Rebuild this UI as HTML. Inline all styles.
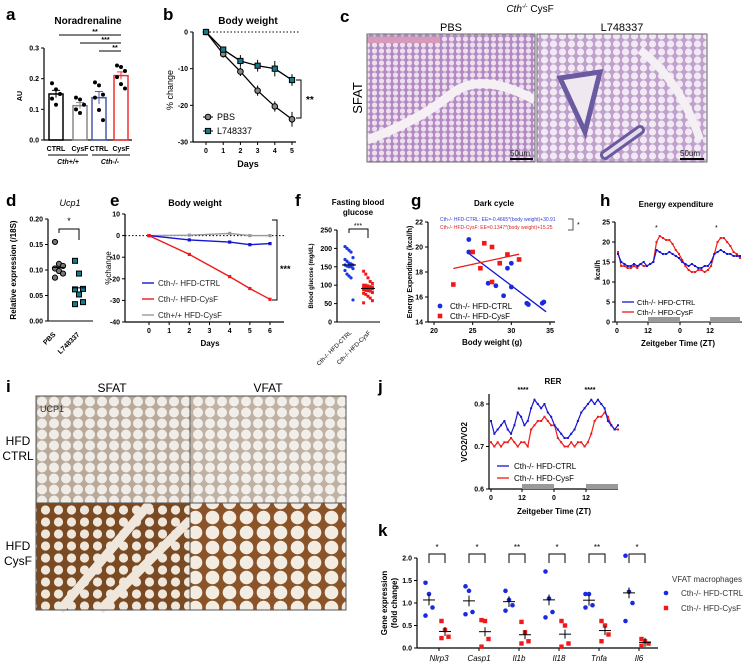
<!DOCTYPE html>
<html><head><meta charset="utf-8"><style>
body{margin:0;background:#fff}
svg{display:block;font-family:"Liberation Sans",sans-serif}
.pl{font-weight:bold;font-size:17px}
.t{font-weight:bold;font-size:10px}
.tk{font-size:7px;font-weight:bold}
</style></head><body>
<svg id="fig" width="756" height="666" viewBox="0 0 756 666">
<defs>
<pattern id="adipo1" width="7" height="6" patternUnits="userSpaceOnUse"><rect width="7" height="6" fill="#b48ac2"/><circle cx="3.5" cy="3" r="2.6" fill="#ece0ef"/></pattern>
<pattern id="adipo2" width="9" height="8" patternUnits="userSpaceOnUse"><rect width="9" height="8" fill="#c0a0cc"/><circle cx="4.5" cy="4" r="3.6" fill="#f1e9f3"/></pattern>
<pattern id="adipo3" width="12" height="11" patternUnits="userSpaceOnUse"><rect width="12" height="11" fill="#b8a99a"/><circle cx="6" cy="5.5" r="5" fill="#f0ede8"/></pattern>
<pattern id="adipo4" width="13" height="12" patternUnits="userSpaceOnUse"><rect width="13" height="12" fill="#7a4a22"/><circle cx="6.5" cy="6" r="4.6" fill="#efe6dc"/></pattern>
<pattern id="adipo5" width="17" height="15" patternUnits="userSpaceOnUse"><rect width="17" height="15" fill="#8a5428"/><circle cx="8.5" cy="7.5" r="6.8" fill="#f3ece2"/></pattern>
</defs>
<g>
<text class="pl" x="6" y="20">a</text><text class="pl" x="163" y="20">b</text><text class="pl" x="340" y="22">c</text>
<text class="pl" x="6" y="206">d</text><text class="pl" x="110" y="206">e</text><text class="pl" x="295" y="206">f</text>
<text class="pl" x="411" y="206">g</text><text class="pl" x="600" y="206">h</text>
<text class="pl" x="6" y="392">i</text><text class="pl" x="378" y="392">j</text><text class="pl" x="378" y="536">k</text>
</g>
<g>
<text x="530" y="12" font-size="10" text-anchor="middle" font-style="italic">Cth<tspan font-size="6" dy="-4">-/-</tspan><tspan dy="4" font-style="normal"> CysF</tspan></text>
<text x="451" y="31" font-size="11" text-anchor="middle">PBS</text>
<text x="622" y="31" font-size="11" text-anchor="middle">L748337</text>
<rect x="367" y="34" width="168" height="128" fill="url(#adipo1)"/>
<path d="M367 40 H440" stroke="#d89ab8" stroke-width="6"/>
<path d="M367 140 Q420 120 450 95 T535 100" stroke="#f4f0f4" stroke-width="9" fill="none"/>
<rect x="537" y="34" width="170" height="128" fill="url(#adipo2)"/>
<path d="M560 78 L600 72 L585 132 Z" fill="#f0e8f0" stroke="#6a5aa0" stroke-width="5"/>
<path d="M605 155 L640 130" stroke="#6a5aa0" stroke-width="10" stroke-linecap="round"/>
<path d="M605 155 L640 130" stroke="#e6dcee" stroke-width="4" stroke-linecap="round"/>
<path d="M640 50 Q680 80 700 140" stroke="#f4f0f4" stroke-width="8" fill="none"/>
<rect x="367" y="34" width="168" height="128" fill="none" stroke="#666"/><rect x="537" y="34" width="170" height="128" fill="none" stroke="#666"/>
<line x1="510" y1="159" x2="533" y2="159" stroke="#000" stroke-width="2"/><line x1="680" y1="159" x2="704" y2="159" stroke="#000" stroke-width="2"/>
<text x="510" y="156" font-size="8" fill="#222">50um</text><text x="680" y="156" font-size="8" fill="#222">50um</text>
<text x="362" y="98" font-size="13" text-anchor="middle" transform="rotate(-90 362 98)">SFAT</text>
</g>
<g>
<text x="112" y="392" font-size="12" text-anchor="middle">SFAT</text><text x="268" y="392" font-size="12" text-anchor="middle">VFAT</text>
<rect x="36" y="396" width="154" height="107" fill="url(#adipo3)"/>
<rect x="190" y="396" width="156" height="107" fill="url(#adipo3)" opacity="0.9"/>
<rect x="36" y="503" width="154" height="107" fill="url(#adipo4)"/>
<path d="M60 610 L150 503 M100 610 L190 520" stroke="#efe6dc" stroke-width="9"/>
<rect x="190" y="503" width="156" height="107" fill="url(#adipo5)"/>
<rect x="36" y="396" width="310" height="214" fill="none" stroke="#555" stroke-width="1"/>
<line x1="190" y1="396" x2="190" y2="610" stroke="#555"/><line x1="36" y1="503" x2="346" y2="503" stroke="#555"/>
<text x="40" y="412" font-size="9" fill="#333">UCP1</text>
<text x="18" y="445" font-size="12" text-anchor="middle">HFD</text><text x="18" y="460" font-size="12" text-anchor="middle">CTRL</text>
<text x="18" y="550" font-size="12" text-anchor="middle">HFD</text><text x="18" y="565" font-size="12" text-anchor="middle">CysF</text>
</g>
<g id="charts"></g>
</svg>
<script>
const aGroups=['CTRL','CysF','CTRL','CysF'];
const aMeans=[0.150,0.112,0.138,0.210];
const aSem=[0.012,0.010,0.020,0.012];
const aPoints=[[0.185,0.165,0.150,0.135,0.115],[0.138,0.132,0.115,0.100,0.088],[0.188,0.178,0.148,0.138,0.098,0.065],[0.243,0.238,0.225,0.205,0.182,0.168]];
const aTicks=[0,0.1,0.2,0.3];
const bDays=[0,1,2,3,4,5];
const bPBS=[0,-6,-10.8,-16,-20.3,-23.8];
const bPBSerr=[0,1,1.2,1.4,1.4,2];
const bL=[0,-4.8,-7.9,-9.2,-10,-13.1];
const bLerr=[0,0.8,1.6,1.6,2.1,1.6];
const bTicks=[0,-10,-20,-30];
const dPBS=[0.155,0.112,0.108,0.103,0.098,0.093,0.085];
const dL=[0.118,0.093,0.063,0.062,0.052,0.037,0.033];
const dMeans=[0.105,0.065];
const dTicks=[0,0.05,0.10,0.15,0.20];
const eDays=[0,2,4,5,6];
const eCtrl=[0,-2,-3,-4.2,-3.7];
const eCysF=[0,-8.7,-19,-24.5,-29.5];
const eWT=[0,0.2,1,0,0];
const eTicks=[10,0,-10,-20,-30,-40];
const eXTicks=[0,1,2,3,4,5,6];
const fCtrl=[205,200,195,190,175,170,165,160,158,155,155,152,150,150,145,140,130,125,120,60];
const fCysF=[138,130,120,110,105,100,100,98,96,95,94,93,92,90,90,88,86,85,84,80,78,75,70,65,58,52];
const fTicks=[0,50,100,150,200,250];
const gCtrlW=[24.5,24.5,27,28,29,29.5,30,30,32,32.2,34,34.2];
const gCtrlE=[20.6,19.6,17.1,16.9,16.1,18.3,18.7,16.8,15.5,15.4,15.5,15.6];
const gCysW=[22.5,25,26,26.5,27.5,27.5,28.5,29.5,31];
const gCysE=[17,19.6,18.3,20.3,20,17.2,18.7,19.4,19];
const gXTicks=[20,25,30,35];
const gYTicks=[14,16,18,20,22];
const hCtrl=[17,15,14.5,14,14,14.5,14,14.5,15,14,14.5,15,18,17.5,17,17,17.5,17,16.5,16,15,14.5,14,14.5,14,13.5,13.5,14,14,15,17,17.5,18,17.5,17,17,16.5,16.5,16.5];
const hCysF=[17.5,14,14,13.5,13.5,14,13.5,14.5,14,14,14.5,15,20,21.5,21,20.5,20.5,19.5,18,17,15.5,14,13,12.5,12.5,13,13,12.5,13,14,17,20,21,21,20,19,17.5,17,16];
const hYTicks=[0,5,10,15,20,25];
const jCtrl=[0.76,0.73,0.74,0.75,0.76,0.74,0.73,0.75,0.78,0.77,0.75,0.76,0.79,0.81,0.80,0.79,0.80,0.78,0.77,0.75,0.74,0.73,0.72,0.72,0.73,0.74,0.76,0.78,0.79,0.80,0.81,0.80,0.81,0.80,0.79,0.76,0.75,0.74,0.75];
const jCysF=[0.71,0.70,0.71,0.70,0.71,0.71,0.72,0.71,0.70,0.71,0.71,0.70,0.74,0.75,0.76,0.76,0.77,0.76,0.75,0.75,0.72,0.71,0.70,0.70,0.71,0.70,0.71,0.71,0.70,0.71,0.73,0.76,0.77,0.77,0.78,0.77,0.75,0.74,0.74];
const jYTicks=[0.6,0.7,0.8];
const kGenes=['Nlrp3','Casp1','Il1b','Il18','Tnfa','Il6'];
const kStars=['*','*','**','*','**','*'];
const kCtrl=[[1.45,1.2,0.9,0.72],[1.37,1.27,0.8,0.75],[1.27,1.07,0.95,0.83],[1.7,1.1,0.8,0.68],[1.2,1.2,0.95,0.9],[2.05,1.25,1.0,0.6]];
const kCysF=[[0.6,0.4,0.25,0.22],[0.62,0.6,0.2,0.03],[0.58,0.35,0.15,0.1],[0.6,0.5,0.1,0.03],[0.6,0.5,0.3,0.15],[0.2,0.15,0.1,0.05]];
const kYTicks=[0,0.5,1.0,1.5,2.0];

const NS='http://www.w3.org/2000/svg';
const root=document.getElementById('charts');
function mk(tag,attrs,parent,txt){const e=document.createElementNS(NS,tag);for(const k in attrs)e.setAttribute(k,attrs[k]);if(txt!==undefined)e.textContent=txt;(parent||root).appendChild(e);return e;}
function grp(name){const g=mk('g',{});


return g;}
function lin(d0,d1,r0,r1){return v=>r0+(v-d0)*(r1-r0)/(d1-d0);}
function yAxis(g,x,y0,y1,ticks,sy,fmt){mk('line',{x1:x,y1:y0,x2:x,y2:y1,stroke:'#000','stroke-width':1.2},g);
ticks.forEach(t=>{const y=sy(t);mk('line',{x1:x-3,y1:y,x2:x,y2:y,stroke:'#000'},g);mk('text',{x:x-5,y:y+2.5,'text-anchor':'end',class:'tk'},g,fmt(t));});}
function xAxis(g,y,x0,x1,ticks,sx,fmt){mk('line',{x1:x0,y1:y,x2:x1,y2:y,stroke:'#000','stroke-width':1.2},g);
ticks.forEach(t=>{const x=sx(t);mk('line',{x1:x,y1:y,x2:x,y2:y+3,stroke:'#000'},g);mk('text',{x:x,y:y+11,'text-anchor':'middle',class:'tk'},g,fmt(t));});}
function mean(a){return a.reduce((s,v)=>s+v,0)/a.length;}

(function(){const g=grp('chart-a-noradrenaline');
const sy=lin(0,0.3,140,48);const cx=[56,80,99,121];const cols=['#000','#888','#4a5aaa','#f03030'];
mk('text',{x:88,y:24,'text-anchor':'middle',class:'t'},g,'Noradrenaline');
yAxis(g,44,48,140,aTicks,sy,t=>t.toFixed(1));
mk('line',{x1:44,y1:140,x2:132,y2:140,stroke:'#000','stroke-width':1.2},g);
mk('text',{x:22,y:96,'text-anchor':'middle',class:'tk','font-size':8,transform:'rotate(-90 22 96)'},g,'AU');
aMeans.forEach((m,i)=>{const b=mk('rect',{x:cx[i]-7,y:sy(m),width:14,height:140-sy(m),fill:'none',stroke:cols[i],'stroke-width':1.5},g);


mk('line',{x1:cx[i],y1:sy(m-aSem[i]),x2:cx[i],y2:sy(m+aSem[i]),stroke:cols[i]},g);
mk('line',{x1:cx[i]-4,y1:sy(m+aSem[i]),x2:cx[i]+4,y2:sy(m+aSem[i]),stroke:cols[i]},g);
aPoints[i].forEach((v,j)=>mk('circle',{cx:cx[i]+((j%3)-1)*4,cy:sy(v),r:2,fill:'#000'},g));
mk('text',{x:cx[i],y:151,'text-anchor':'middle',class:'tk'},g,aGroups[i]);});
[[59,121,35,'**'],[80,121,43,'***'],[99,121,51,'**']].forEach(s=>{mk('line',{x1:s[0],y1:s[2],x2:s[1],y2:s[2],stroke:'#000'},g);mk('text',{x:(s[0]+s[1])/2+5,y:s[2]-1,'text-anchor':'middle',class:'tk','font-size':8},g,s[3]);});
mk('line',{x1:48,y1:155,x2:88,y2:155,stroke:'#000'},g);mk('line',{x1:92,y1:155,x2:130,y2:155,stroke:'#000'},g);
mk('text',{x:68,y:164,'text-anchor':'middle',class:'tk','font-style':'italic'},g,'Cth+/+');
mk('text',{x:110,y:164,'text-anchor':'middle',class:'tk','font-style':'italic'},g,'Cth-/-');})();

(function(){const g=grp('chart-b-body-weight');
const sx=lin(0,5,206,292),sy=lin(0,-30,32,142);
mk('text',{x:248,y:24,'text-anchor':'middle',class:'t'},g,'Body weight');
yAxis(g,193,32,142,bTicks,sy,t=>t);xAxis(g,142,193,296,bDays,sx,t=>t);
mk('line',{x1:206,y1:32,x2:300,y2:32,stroke:'#000','stroke-dasharray':'1.5 2'},g);
mk('text',{x:173,y:90,'text-anchor':'middle','font-size':9,transform:'rotate(-90 173 90)'},g,'% change');
mk('text',{x:248,y:167,'text-anchor':'middle','font-size':9,'font-weight':'bold'},g,'Days');
[[bPBS,bPBSerr,'#888','c'],[bL,bLerr,'#157a8c','s']].forEach(([v,e,c,sh])=>{
mk('polyline',{points:bDays.map((d,i)=>sx(d)+','+sy(v[i])).join(' '),fill:'none',stroke:'#000','stroke-width':1.3},g);
bDays.forEach((d,i)=>{mk('line',{x1:sx(d),y1:sy(v[i]-e[i]),x2:sx(d),y2:sy(v[i]+e[i]),stroke:'#000'},g);
if(sh=='c')mk('circle',{cx:sx(d),cy:sy(v[i]),r:2.8,fill:c,stroke:'#000'},g);else mk('rect',{x:sx(d)-2.6,y:sy(v[i])-2.6,width:5.2,height:5.2,fill:c,stroke:'#000'},g);});});
mk('path',{d:'M296 80 H301 V118 H296',fill:'none',stroke:'#000'},g);mk('text',{x:306,y:103,'font-size':10,'font-weight':'bold'},g,'**');
mk('line',{x1:203,y1:117,x2:213,y2:117,stroke:'#000'},g);mk('circle',{cx:208,cy:117,r:2.8,fill:'#888',stroke:'#000'},g);mk('text',{x:217,y:120,'font-size':9},g,'PBS');
mk('line',{x1:203,y1:131,x2:213,y2:131,stroke:'#000'},g);mk('rect',{x:205.4,y:128.4,width:5.2,height:5.2,fill:'#157a8c',stroke:'#000'},g);mk('text',{x:217,y:134,'font-size':9},g,'L748337');})();

(function(){const g=grp('chart-d-ucp1');
const sy=lin(0,0.2,321,219);
mk('text',{x:70,y:206,'text-anchor':'middle','font-size':9,'font-style':'italic'},g,'Ucp1');
yAxis(g,48,219,321,dTicks,sy,t=>t.toFixed(2));mk('line',{x1:48,y1:321,x2:93,y2:321,stroke:'#000'},g);
mk('text',{x:16,y:270,'text-anchor':'middle','font-size':8,'font-weight':'bold',transform:'rotate(-90 16 270)'},g,'Relative expression (/18S)');
dPBS.forEach((v,j)=>mk('circle',{cx:59+((j%3)-1)*4,cy:sy(v),r:2.6,fill:'#777',stroke:'#000'},g));
dL.forEach((v,j)=>mk('rect',{x:79+((j%3)-1)*4-2.5,y:sy(v)-2.5,width:5,height:5,fill:'#157a8c',stroke:'#000'},g));
[59,79].forEach((x,i)=>mk('line',{x1:x-6,y1:sy(dMeans[i]),x2:x+6,y2:sy(dMeans[i]),stroke:'#000'},g));
mk('path',{d:'M59 233 V229 H79 V240',fill:'none',stroke:'#000'},g);mk('text',{x:69,y:224,'text-anchor':'middle','font-size':9},g,'*');
mk('text',{x:56,y:335,'font-size':7,'font-weight':'bold','text-anchor':'end',transform:'rotate(-45 56 335)'},g,'PBS');
mk('text',{x:80,y:335,'font-size':7,'font-weight':'bold','text-anchor':'end',transform:'rotate(-45 80 335)'},g,'L748337');})();

(function(){const g=grp('chart-e-body-weight');
const sx=lin(0,6,149,270),sy=lin(10,-40,214,322);
mk('text',{x:195,y:206,'text-anchor':'middle','font-size':9,'font-weight':'bold'},g,'Body weight');
yAxis(g,125,214,322,eTicks,sy,t=>t);xAxis(g,322,125,284,eXTicks,sx,t=>t);
mk('line',{x1:125,y1:sy(0),x2:284,y2:sy(0),stroke:'#000','stroke-dasharray':'1.5 2'},g);
mk('text',{x:111,y:268,'text-anchor':'middle','font-size':8,transform:'rotate(-90 111 268)'},g,'%change');
mk('text',{x:210,y:346,'text-anchor':'middle','font-size':8,'font-weight':'bold'},g,'Days');
[[eWT,'#999'],[eCtrl,'#1515d0'],[eCysF,'#f01818']].forEach(([v,c])=>{mk('polyline',{points:eDays.map((d,i)=>sx(d)+','+sy(v[i])).join(' '),fill:'none',stroke:c,'stroke-width':1.4},g);
eDays.forEach((d,i)=>mk('rect',{x:sx(d)-1.6,y:sy(v[i])-1.6,width:3.2,height:3.2,fill:c},g));});
mk('path',{d:'M272 220 H277 V300 H272',fill:'none',stroke:'#000'},g);mk('text',{x:280,y:272,'font-size':9,'font-weight':'bold'},g,'***');
[['#1515d0','Cth-/- HFD-CTRL',283],['#f01818','Cth-/- HFD-CysF',299],['#999','Cth+/+ HFD-CysF',315]].forEach(([c,t,y])=>{mk('line',{x1:142,y1:y,x2:154,y2:y,stroke:c,'stroke-width':1.4},g);mk('text',{x:158,y:y+3,'font-size':8,fill:'#222'},g,t);});})();

(function(){const g=grp('chart-f-fasting-glucose');
const sy=lin(0,250,322,230);
mk('text',{x:358,y:205,'text-anchor':'middle','font-size':8,'font-weight':'bold'},g,'Fasting blood');
mk('text',{x:358,y:215,'text-anchor':'middle','font-size':8,'font-weight':'bold'},g,'glucose');
yAxis(g,337,230,322,fTicks,sy,t=>t);mk('line',{x1:337,y1:322,x2:380,y2:322,stroke:'#000'},g);
mk('text',{x:313,y:276,'text-anchor':'middle','font-size':6,'font-weight':'bold',transform:'rotate(-90 313 276)'},g,'Blood glucose (mg/dL)');
fCtrl.forEach((v,j)=>mk('circle',{cx:349+((j%5)-2)*2,cy:sy(v),r:1.6,fill:'#1a3ae0'},g));
fCysF.forEach((v,j)=>mk('rect',{x:368+((j%5)-2)*2.2-1.5,y:sy(v)-1.5,width:3,height:3,fill:'#f01818'},g));
[[349,mean(fCtrl)],[368,mean(fCysF)]].forEach(([x,m])=>mk('line',{x1:x-7,y1:sy(m),x2:x+7,y2:sy(m),stroke:'#000'},g));
mk('path',{d:'M349 233 V229 H368 V238',fill:'none',stroke:'#000'},g);mk('text',{x:358,y:228,'text-anchor':'middle','font-size':7},g,'***');
mk('text',{x:352,y:333,'font-size':6,'text-anchor':'end',transform:'rotate(-45 352 333)'},g,'Cth-/- HFD-CTRL');
mk('text',{x:371,y:333,'font-size':6,'text-anchor':'end',transform:'rotate(-45 371 333)'},g,'Cth-/- HFD-CysF');})();

(function(){const g=grp('chart-g-dark-cycle');
const sx=lin(20,35,434,550),sy=lin(22,14,222,322);
mk('text',{x:494,y:206,'text-anchor':'middle','font-size':8,'font-weight':'bold'},g,'Dark cycle');
yAxis(g,428,222,322,gYTicks,sy,t=>t);xAxis(g,322,428,555,gXTicks,sx,t=>t);
mk('text',{x:412,y:272,'text-anchor':'middle','font-size':7,'font-weight':'bold',transform:'rotate(-90 412 272)'},g,'Energy Expenditure (kcal/h)');
mk('text',{x:492,y:345,'text-anchor':'middle','font-size':8,'font-weight':'bold'},g,'Body weight (g)');
mk('text',{x:440,y:221,'font-size':5,fill:'#3040d0'},g,'Cth-/- HFD-CTRL: EE=-0.4665*(body weight)+30.91');
mk('text',{x:440,y:229,'font-size':5,fill:'#e02020'},g,'Cth-/- HFD-CysF: EE=0.1347*(body weight)+15.25');
mk('path',{d:'M568 219 H573 V230 H568',fill:'none',stroke:'#555'},g);mk('text',{x:577,y:227,'font-size':7},g,'*');
mk('line',{x1:sx(24.5),y1:sy(-0.4665*24.5+30.91),x2:sx(34.5),y2:sy(-0.4665*34.5+30.91),stroke:'#1515d0','stroke-width':1.3},g);
mk('line',{x1:sx(22.5),y1:sy(0.1347*22.5+15.25),x2:sx(31),y2:sy(0.1347*31+15.25),stroke:'#f01818','stroke-width':1.3},g);
gCtrlW.forEach((w,i)=>mk('circle',{cx:sx(w),cy:sy(gCtrlE[i]),r:2.4,fill:'#1a2ae0'},g));
gCysW.forEach((w,i)=>mk('rect',{x:sx(w)-2.3,y:sy(gCysE[i])-2.3,width:4.6,height:4.6,fill:'#f01818'},g));
mk('circle',{cx:440,cy:306,r:2.4,fill:'#1a2ae0'},g);mk('text',{x:450,y:309,'font-size':8},g,'Cth-/- HFD-CTRL');
mk('rect',{x:437.7,y:313.7,width:4.6,height:4.6,fill:'#f01818'},g);mk('text',{x:450,y:319,'font-size':8},g,'Cth-/- HFD-CysF');})();

(function(){const g=grp('chart-h-energy-expenditure');
const sx=lin(0,38,618,740),sy=lin(0,25,322,222);
mk('text',{x:676,y:207,'text-anchor':'middle','font-size':8,'font-weight':'bold'},g,'Energy expenditure');
yAxis(g,615,222,322,hYTicks,sy,t=>t);mk('line',{x1:615,y1:322,x2:742,y2:322,stroke:'#000'},g);
[[617,'0'],[648,'12'],[680,'0'],[710,'12']].forEach(([x,l])=>{mk('line',{x1:x,y1:322,x2:x,y2:325,stroke:'#000'},g);mk('text',{x:x,y:333,'text-anchor':'middle',class:'tk'},g,l);});
mk('rect',{x:648,y:317,width:32,height:5,fill:'#999'},g);mk('rect',{x:710,y:317,width:30,height:5,fill:'#999'},g);
mk('text',{x:600,y:270,'text-anchor':'middle','font-size':7,'font-weight':'bold',transform:'rotate(-90 600 270)'},g,'kcal/h');
mk('text',{x:678,y:346,'text-anchor':'middle','font-size':8,'font-weight':'bold'},g,'Zeitgeber Time (ZT)');
[[hCysF,'#f01818'],[hCtrl,'#1515d0']].forEach(([v,c])=>{mk('polyline',{points:v.map((y,i)=>sx(i)+','+sy(y)).join(' '),fill:'none',stroke:c,'stroke-width':1.2},g);v.forEach((y,i)=>mk('rect',{x:sx(i)-1,y:sy(y)-1,width:2,height:2,fill:c},g));});
mk('text',{x:655,y:230,'font-size':7},g,'*');mk('text',{x:715,y:230,'font-size':7},g,'*');
mk('line',{x1:622,y1:302,x2:634,y2:302,stroke:'#1515d0','stroke-width':1.3},g);mk('text',{x:637,y:305,'font-size':7.5},g,'Cth-/- HFD-CTRL');
mk('line',{x1:622,y1:312,x2:634,y2:312,stroke:'#f01818','stroke-width':1.3},g);mk('text',{x:637,y:315,'font-size':7.5},g,'Cth-/- HFD-CysF');})();

(function(){const g=grp('chart-j-rer');
const sx=lin(0,38,491,618),sy=lin(0.6,0.8,489,404);
mk('text',{x:553,y:384,'text-anchor':'middle','font-size':8,'font-weight':'bold'},g,'RER');
mk('text',{x:523,y:392,'text-anchor':'middle','font-size':7,'font-weight':'bold'},g,'****');mk('text',{x:590,y:392,'text-anchor':'middle','font-size':7,'font-weight':'bold'},g,'****');
yAxis(g,489,394,489,jYTicks,sy,t=>t.toFixed(1));mk('line',{x1:489,y1:489,x2:618,y2:489,stroke:'#000','stroke-width':1.2},g);
mk('rect',{x:522,y:484,width:32,height:5,fill:'#999'},g);mk('rect',{x:586,y:484,width:32,height:5,fill:'#999'},g);
[[491,'0'],[522,'12'],[554,'0'],[586,'12']].forEach(([x,l])=>{mk('line',{x1:x,y1:489,x2:x,y2:492,stroke:'#000'},g);mk('text',{x:x,y:500,'text-anchor':'middle',class:'tk'},g,l);});
mk('text',{x:467,y:442,'text-anchor':'middle','font-size':8,'font-weight':'bold',transform:'rotate(-90 467 442)'},g,'VCO2/VO2');
mk('text',{x:554,y:514,'text-anchor':'middle','font-size':8,'font-weight':'bold'},g,'Zeitgeber Time (ZT)');
[[jCysF,'#f01818'],[jCtrl,'#1515d0']].forEach(([v,c])=>{mk('polyline',{points:v.map((y,i)=>sx(i)+','+sy(y)).join(' '),fill:'none',stroke:c,'stroke-width':1.2},g);v.forEach((y,i)=>mk('rect',{x:sx(i)-1,y:sy(y)-1,width:2,height:2,fill:c},g));});
mk('line',{x1:497,y1:466,x2:509,y2:466,stroke:'#1515d0','stroke-width':1.3},g);mk('text',{x:514,y:469,'font-size':8},g,'Cth-/- HFD-CTRL');
mk('line',{x1:497,y1:478,x2:509,y2:478,stroke:'#f01818','stroke-width':1.3},g);mk('text',{x:514,y:481,'font-size':8},g,'Cth-/- HFD-CysF');})();

(function(){const g=grp('chart-k-gene-expression');
const sy=lin(0,2,648,558);const sx=i=>439+i*40;
yAxis(g,417,558,648,kYTicks,sy,t=>t.toFixed(1));mk('line',{x1:417,y1:648,x2:658,y2:648,stroke:'#000','stroke-width':1.3},g);
mk('text',{x:387,y:603,'text-anchor':'middle','font-size':8,'font-weight':'bold',transform:'rotate(-90 387 603)'},g,'Gene expression');
mk('text',{x:397,y:603,'text-anchor':'middle','font-size':8,'font-weight':'bold',transform:'rotate(-90 397 603)'},g,'(fold change)');
kGenes.forEach((gn,i)=>{const x=sx(i);
mk('text',{x:x,y:661,'text-anchor':'middle','font-size':8,'font-style':'italic'},g,gn);
mk('line',{x1:x,y1:648,x2:x,y2:651,stroke:'#000'},g);
mk('path',{d:`M${x-10} 563 V554 H${x+6} V563`,fill:'none',stroke:'#000'},g);
mk('text',{x:x-2,y:550,'text-anchor':'middle','font-size':8},g,kStars[i]);
kCtrl[i].forEach((v,j)=>mk('circle',{cx:x-10+((j%3)-1)*3.5,cy:sy(v),r:2.3,fill:'#1a2ae0'},g));
kCysF[i].forEach((v,j)=>mk('rect',{x:x+6+((j%3)-1)*3.5-2.2,y:sy(v)-2.2,width:4.4,height:4.4,fill:'#f01818'},g));
const m1=mean(kCtrl[i]),m2=mean(kCysF[i]);
mk('line',{x1:x-16,y1:sy(m1),x2:x-4,y2:sy(m1),stroke:'#000'},g);mk('line',{x1:x-10,y1:sy(m1-0.12),x2:x-10,y2:sy(m1+0.12),stroke:'#000'},g);
mk('line',{x1:x,y1:sy(m2),x2:x+12,y2:sy(m2),stroke:'#000'},g);mk('line',{x1:x+6,y1:sy(m2-0.1),x2:x+6,y2:sy(m2+0.1),stroke:'#000'},g);});
mk('text',{x:672,y:582,'font-size':8,fill:'#333'},g,'VFAT macrophages');
mk('circle',{cx:666,cy:593,r:2.3,fill:'#1a2ae0'},g);mk('text',{x:681,y:596,'font-size':8,fill:'#333'},g,'Cth-/- HFD-CTRL');
mk('rect',{x:663.8,y:605.8,width:4.4,height:4.4,fill:'#f01818'},g);mk('text',{x:681,y:611,'font-size':8,fill:'#333'},g,'Cth-/- HFD-CysF');})();
</script>
</body></html>
